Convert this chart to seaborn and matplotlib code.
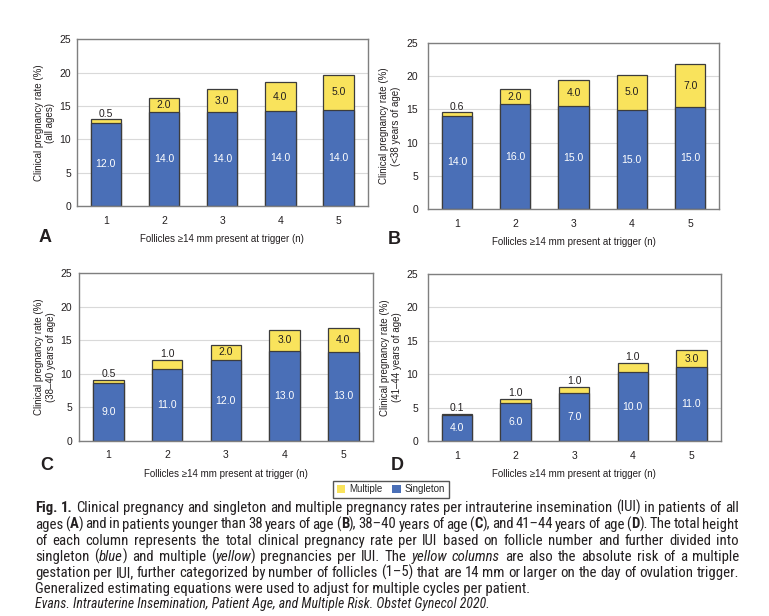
import matplotlib
matplotlib.use('Agg')
import matplotlib.pyplot as plt
from matplotlib import font_manager
from matplotlib.patches import Patch
import seaborn as sns

# ---- data ----
cats = ['1', '2', '3', '4', '5']

# A: all ages
single_a = [12.5, 14.1, 14.1, 14.25, 14.45]
multi_a = [0.5, 2.05, 3.4, 4.3, 5.15]
single_a_lbl = ['12.0', '14.0', '14.0', '14.0', '14.0']
multi_a_lbl = ['0.5', '2.0', '3.0', '4.0', '5.0']

# B: <38 years
single_b = [14.05, 15.75, 15.45, 14.9, 15.3]
multi_b = [0.5, 2.35, 4.0, 5.3, 6.5]
single_b_lbl = ['14.0', '16.0', '15.0', '15.0', '15.0']
multi_b_lbl = ['0.6', '2.0', '4.0', '5.0', '7.0']

# C: 38-40 years
single_c = [8.65, 10.65, 12.0, 13.45, 13.25]
multi_c = [0.45, 1.4, 2.35, 3.1, 3.65]
single_c_lbl = ['9.0', '11.0', '12.0', '13.0', '13.0']
multi_c_lbl = ['0.5', '1.0', '2.0', '3.0', '4.0']

# D: 41-44 years
single_d = [3.9, 5.65, 7.2, 10.3, 11.05]
multi_d = [0.2, 0.7, 0.9, 1.4, 2.5]
single_d_lbl = ['4.0', '6.0', '7.0', '10.0', '11.0']
multi_d_lbl = ['0.1', '1.0', '1.0', '1.0', '3.0']

BLUE = '#4a6fb7'
YELLOW = '#f9e35c'
EDGE = '#3c3c3c'
TXT = '#231f20'

sns.set_style('white')
plt.rcParams['font.family'] = ['Liberation Sans', 'DejaVu Sans']

W, H = 769, 616
fig = plt.figure(figsize=(W / 100, H / 100), dpi=100)

# (left px, top px, right px, bottom px, ylabel, letter, letter pos, ylabel x, ytick pad)
panels = [
    (76.7, 39.3, 367.7, 206.0, '(all ages)', 'A', (45, 237), -0.110, 4,
     single_a, multi_a, single_a_lbl, multi_a_lbl),
    (427.7, 42.7, 719.3, 209.3, '(<38 years of age)', 'B', (394, 240), -0.130, 7,
     single_b, multi_b, single_b_lbl, multi_b_lbl),
    (79.0, 273.3, 372.7, 440.7, '(38–40 years of age)', 'C', (47, 465), -0.116, 5,
     single_c, multi_c, single_c_lbl, multi_c_lbl),
    (427.7, 274.0, 720.7, 441.0, '(41–44 years of age)', 'D', (397, 465), -0.126, 7,
     single_d, multi_d, single_d_lbl, multi_d_lbl),
]

for (l, t, r, b, sub, letter, lpos, ylx, ypad, single, multi, s_lbl, m_lbl) in panels:
    ax = fig.add_axes([l / W, 1 - b / H, (r - l) / W, (b - t) / H])
    total = [s + m for s, m in zip(single, multi)]
    # total first (yellow), singleton drawn over it (blue)
    sns.barplot(x=cats, y=total, color=YELLOW, saturation=1, width=0.52,
                edgecolor=EDGE, linewidth=0.9, ax=ax)
    sns.barplot(x=cats, y=single, color=BLUE, saturation=1, width=0.52,
                edgecolor=EDGE, linewidth=0.9, ax=ax)
    ax.bar_label(ax.containers[1], labels=s_lbl, label_type='center',
                 color='white', fontsize=7.5)
    for i, (s, m, lb) in enumerate(zip(single, multi, m_lbl)):
        if m >= 1.8:
            ax.text(i, s + m / 2, lb, ha='center', va='center', fontsize=7.5, color=TXT)
        else:
            ax.text(i, s + m + 0.12, lb, ha='center', va='bottom', fontsize=7.5, color=TXT)

    ax.set_xlim(-0.5, 4.5)
    ax.set_ylim(0, 25)
    ax.set_yticks(range(0, 26, 5))
    ax.set_axisbelow(True)
    ax.yaxis.grid(True, color='#d9d9d9', lw=0.8)
    for sp in ax.spines.values():
        sp.set_visible(True)
        sp.set_color('#7f7f7f')
        sp.set_linewidth(1.0)
    ax.tick_params(axis='x', length=0, pad=7, labelsize=7.5, labelcolor=TXT)
    ax.tick_params(axis='y', length=0, pad=ypad, labelsize=7.5, labelcolor=TXT)

    ax.set_xlabel('Follicles ≥14 mm present at trigger (n)', fontsize=7, color=TXT)
    ax.xaxis.label.set_va('center')
    ax.xaxis.set_label_coords(0.5, -33.0 / (b - t))
    ax.set_ylabel('Clinical pregnancy rate (%)\n' + sub, fontsize=7, color=TXT,
                  multialignment='center')
    ax.yaxis.label.set_va('center')
    ax.yaxis.set_label_coords(ylx, 0.5)

    fig.text(lpos[0] / W, 1 - lpos[1] / H, letter, fontsize=13, fontweight='bold',
             ha='center', va='center', color=TXT)

# legend
handles = [Patch(facecolor=YELLOW, edgecolor='none', label='Multiple'),
           Patch(facecolor=BLUE, edgecolor='none', label='Singleton')]
fig.legend(handles=handles, loc='center', bbox_to_anchor=(391 / W, 1 - 489.5 / H),
           ncol=2, fontsize=7, frameon=True, fancybox=False, edgecolor='#555555',
           framealpha=1, handlelength=0.9, handleheight=0.9, handletextpad=0.4,
           columnspacing=1.0, borderpad=0.35)

# ---- caption (condensed face, justified) ----
installed = {f.name for f in font_manager.fontManager.ttflist}
cap_font = next(f for f in ['Roboto Condensed', 'PT Sans Narrow', 'Liberation Sans', 'DejaVu Sans']
                if f in installed)
cap_family = [cap_font, 'DejaVu Sans']
renderer = fig.canvas.get_renderer()

lines = [
    [('Fig. 1.', 'b'), (' Clinical pregnancy and singleton and multiple pregnancy rates per '
                        'intrauterine insemination (IUI) in patients of all', 'r')],
    [('ages (', 'r'), ('A', 'b'), (') and in patients younger than 38 years of age (', 'r'),
     ('B', 'b'), ('), 38–40 years of age (', 'r'), ('C', 'b'),
     ('), and 41–44 years of age (', 'r'), ('D', 'b'), ('). The total height', 'r')],
    [('of each column represents the total clinical pregnancy rate per IUI based on '
      'follicle number and further divided into', 'r')],
    [('singleton (', 'r'), ('blue', 'i'), (') and multiple (', 'r'), ('yellow', 'i'),
     (') pregnancies per IUI. The ', 'r'), ('yellow columns', 'i'),
     (' are also the absolute risk of a multiple', 'r')],
    [('gestation per IUI, further categorized by number of follicles (1–5) that are '
      '14 mm or larger on the day of ovulation trigger.', 'r')],
    [('Generalized estimating equations were used to adjust for multiple cycles per patient.', 'r')],
]
justify = [True, True, True, True, True, False]
baselines = [512, 528.5, 545, 561, 577, 593]
evans = [('Evans. Intrauterine Insemination, Patient Age, and Multiple Risk. Obstet Gynecol 2020.', 'i')]


def split_words(segments):
    words = [[]]
    for txt, sty in segments:
        parts = txt.split(' ')
        for i, p in enumerate(parts):
            if i > 0:
                words.append([])
            if p:
                words[-1].append((p, sty))
    return [w for w in words if w]


def style_kw(sty, size):
    return dict(fontsize=size, family=cap_family, color=TXT,
                fontweight='bold' if sty == 'b' else 'normal',
                fontstyle='italic' if sty == 'i' else 'normal')


def measure(txt, sty, size):
    t = fig.text(0, 0, txt, **style_kw(sty, size))
    w = t.get_window_extent(renderer).width
    t.remove()
    return w


def tight_width(segments, size, squeeze=1.0):
    words = split_words(segments)
    space = measure('a a', 'r', size) - measure('aa', 'r', size)
    return sum(measure(p, s, size) for w in words for p, s in w) + squeeze * space * (len(words) - 1)


def draw_line(segments, x0, x1, ybase, size, just):
    if not just and len(segments) == 1:
        # plain left-aligned line: one text object keeps a steady baseline
        txt, sty = segments[0]
        fig.text(x0 / W, 1 - ybase / H, txt, va='baseline', ha='left', **style_kw(sty, size))
        return
    words = split_words(segments)
    drawn = []
    for w in words:
        pieces = []
        for txt, sty in w:
            t = fig.text(0, 1 - ybase / H, txt, va='baseline', ha='left', **style_kw(sty, size))
            pieces.append((t, t.get_window_extent(renderer).width))
        drawn.append(pieces)
    space = measure('a a', 'r', size) - measure('aa', 'r', size)
    widths = [sum(p[1] for p in w) for w in drawn]
    if just and len(drawn) > 1:
        gap = (x1 - x0 - sum(widths)) / (len(drawn) - 1)
    else:
        gap = space
    x = x0
    for pieces in drawn:
        for t, pw in pieces:
            t.set_x(x / W)
            x += pw
        x += gap


# fit the font size so every justified line fits with spaces squeezed to ~70 %
widest = max(tight_width(seg, 10, 0.7) for seg in lines[:5])
cap_size = min(11, 10 * 704 / widest)
for seg, j, yb in zip(lines, justify, baselines):
    draw_line(seg, 35, 739, yb, cap_size, j)

ev_size = min(10, 9 * 452 / tight_width(evans, 9))
draw_line(evans, 35, 739, 608, ev_size, False)

fig.savefig('out.png', dpi=100)
